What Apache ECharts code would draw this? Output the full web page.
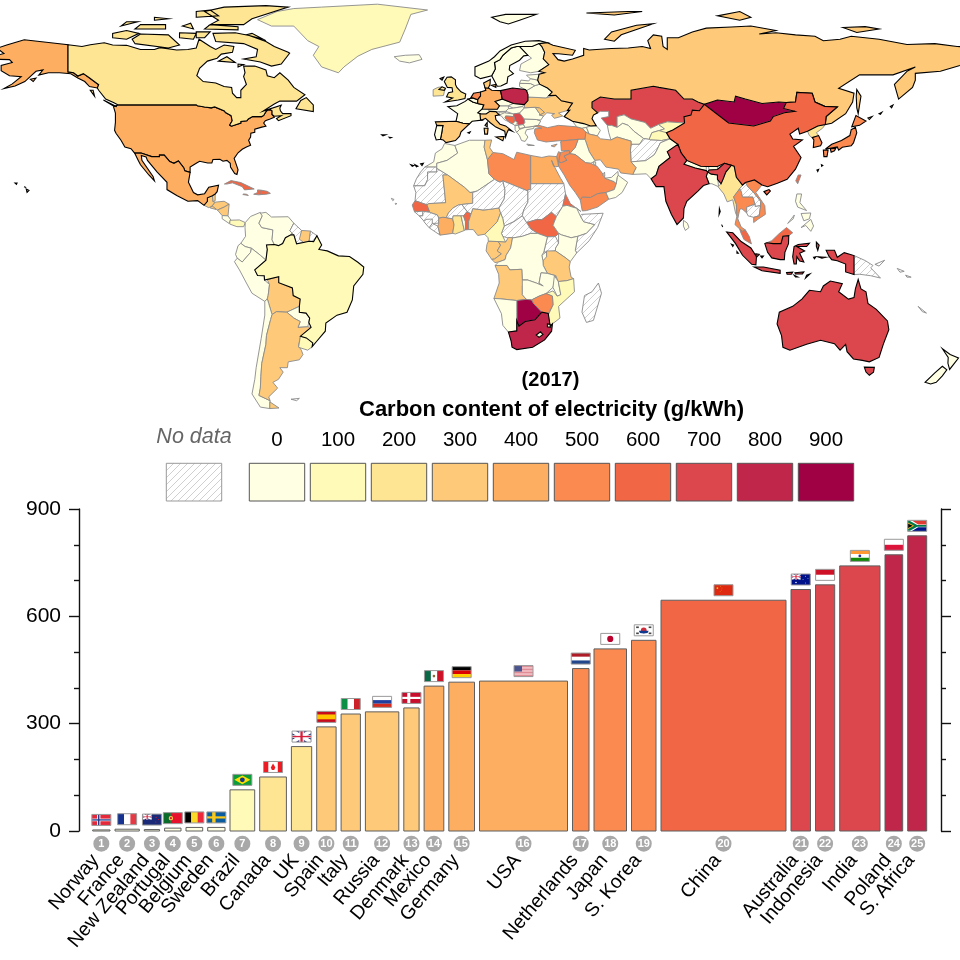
<!DOCTYPE html>
<html><head><meta charset="utf-8">
<style>html,body{margin:0;padding:0;background:#fff}#c{width:960px;height:960px}</style>
<script src="https://cdn.jsdelivr.net/npm/echarts@6/dist/echarts.min.js"></script>
</head><body><div id="c"></div>
<script>
// ---------- bar chart data ----------
const countries = ['Norway','France','New Zealand','Portugal','Belgium','Sweden','Brazil','Canada','UK','Spain','Italy','Russia','Denmark','Mexico','Germany','USA','Netherlands','Japan','S. Korea','China','Australia','Indonesia','India','Poland','S. Africa'];
const barValues = [3,5,4,8,10,10,115,151,236,291,327,333,344,405,416,419,454,509,533,645,675,688,741,772,825];
const barWidths = [17.3,24.3,15.3,16.4,16.7,17.3,24.7,26.7,20.3,19.4,19.3,33.4,15.3,19.7,25.7,88,16.5,32.5,24.5,125,19.5,19.2,40.3,17.7,19];
const yTickStep = 300;
const yMax = 900;
// ---------- legend data ----------
const legendLabels = ['0','100','200','300','400','500','600','700','800','900'];
const legendColors = ['#FFFFE3','#FFFAB7','#FEE594','#FECA79','#FDAE61','#FB8A50','#F16745','#DB474C','#BF2649','#A00044'];
// ---------- map data: value per region (null = no data) ----------
const regionValues = {
Greenland:100,Iceland:20,Guatemala:300,Belize:300,Salvador:300,Honduras:300,Nicaragua:300,CostaRica:20,Panama:100,Cuba:600,Haiti:600,Dominican:600,Jamaica:600,
Colombia:20,Venezuela:20,Guyana:null,Suriname:300,FrenchGuiana:null,Ecuador:20,Peru:20,Bolivia:300,Paraguay:20,Chile:20,Argentina:300,Uruguay:100,Falkland:null,
Ireland:200,Switzerland:20,Austria:20,CzechRep:20,Slovakia:20,Hungary:20,Slovenia:20,Croatia:20,Bosnia:600,Serbia:700,Montenegro:20,Albania:20,Macedonia:20,Greece:20,Bulgaria:20,Romania:20,Moldova:300,Ukraine:300,Belarus:20,Lithuania:20,Latvia:20,Estonia:20,Finland:20,Cyprus:400,
Kazakhstan:700,Uzbekistan:20,Turkmenistan:20,Kyrgyzstan:100,Tajikistan:100,Afghanistan:null,Pakistan:20,Nepal:20,Bhutan:20,Bangladesh:20,SriLanka:20,Mongolia:900,NKorea:200,Taiwan:600,Myanmar:200,Thailand:500,Laos:null,Cambodia:null,Vietnam:500,Malaysia:600,PNG:null,Philippines:20,Solomon:null,NewCaledonia:null,
Turkey:500,Georgia:20,Armenia:20,Azerbaijan:20,Iran:400,Iraq:20,Syria:500,Jordan:500,Israel:500,Saudi:500,Yemen:500,Oman:20,UAE:20,Qatar:20,Kuwait:20,
Morocco:20,WSahara:null,Mauritania:null,Algeria:20,Tunisia:300,Libya:500,Egypt:400,Mali:300,Senegal:600,GuineaBissau:null,Guinea:null,SierraLeone:null,Liberia:null,IvoryCoast:400,Burkina:null,Ghana:200,Togo:20,Benin:600,Nigeria:300,Niger:null,Chad:null,Sudan:null,SouthSudan:600,Eritrea:600,Ethiopia:20,Somalia:null,Kenya:20,Uganda:null,Rwanda:20,Tanzania:300,CAR:null,Cameroon:100,Gabon:300,Congo:300,DRC:20,Angola:300,Zambia:20,Malawi:20,Mozambique:100,Zimbabwe:500,Botswana:900,Namibia:20,Lesotho:0,Swaziland:0,Madagascar:null,CapeVerde:null
};
// map outlines as lon,lat rings (rings separated by |)
const regionRings = {
Greenland:'-73,78.2 -68,76 -60,76 -55,71 -51,69 -53,66 -50,62 -44,60 -42,62 -37,65.7 -32,68 -22,70.5 -20,75 -18,80 -12,81.5 -30,83.5 -50,82.5 -60,82 -66,81',
Iceland:'-24,65.5 -22,64 -18.5,63.4 -14,64.6 -15,66.2 -20,66',
Guatemala:'-92.2,14.6 -91,16 -91,17.2 -89.2,17.9 -89,15.9 -88.2,15.7 -89.3,14.4 -90.5,13.8',
Belize:'-89.2,17.9 -88.2,18.5 -88.2,16.2 -89,15.9',
Salvador:'-90,13.7 -89.3,14.4 -87.7,13.8 -87.9,13.2',
Honduras:'-89.3,14.4 -88.2,15.7 -85,16 -83.2,15 -85,14 -87.4,13',
Nicaragua:'-87.4,13 -85,14 -83.2,15 -83.6,11 -85.7,11.1',
CostaRica:'-85.7,11.1 -83.6,11 -82.6,9.6 -83.2,8.4 -85.7,10',
Panama:'-82.9,9.5 -79.5,9.6 -77.4,8.7 -78,7.3 -80.4,7.3 -83,8.2',
Cuba:'-84.9,21.9 -82.5,23.1 -79,22.4 -74.2,20.2 -77.7,19.9 -78.5,21 -82,22.3 -84,21.9',
Haiti:'-74.4,18.4 -72.5,18.2 -71.7,18.3 -71.7,19.8 -73,19.9 -73,19',
Dominican:'-71.7,18.3 -70,18.4 -68.4,18.7 -69.5,19.4 -71.7,19.8',
Jamaica:'-78.3,18.3 -76.3,18 -77,18.4 -78,18.5',
Colombia:'-77.4,8.7 -75.5,10.8 -72,12.2 -71.3,11 -72.5,8.5 -71.5,7 -67.5,6.2 -67.8,2.8 -67,1.2 -69.8,1 -69.5,-0.5 -70,-4.2 -72,-2.5 -75.2,-0.1 -77.5,0.5 -79,1.6 -77.3,4 -77.5,7',
Venezuela:'-71.3,11 -72,11.9 -70,12.2 -68,10.6 -62,10.7 -60,8.5 -61.4,5.9 -60.7,5.2 -61,4.5 -63,3.5 -64,1.5 -65.5,0.8 -67,1.2 -67.8,2.8 -67.5,6.2 -71.5,7 -72.5,8.5',
Guyana:'-60,8.5 -57.2,6 -57.5,3.4 -56.5,1.9 -59,1.4 -60,4.5 -60.7,5.2 -61.4,5.9',
Suriname:'-57.2,6 -54,5.8 -54.5,2.3 -56.5,1.9 -58,3',
FrenchGuiana:'-54,5.8 -51.7,4.2 -52.9,2.2 -54.5,2.3',
Ecuador:'-80.9,-2.2 -80,0.8 -79,1.6 -77.5,0.5 -75.2,-0.1 -75.5,-1.5 -78.5,-4.8 -80.3,-3.5',
Peru:'-81.3,-4.7 -80.3,-3.5 -78.5,-4.8 -75.5,-1.5 -75.2,-0.1 -72,-2.5 -70,-4.2 -74,-7.5 -73,-9.4 -70.6,-9.5 -70.5,-11 -68.7,-12.5 -69.2,-16.3 -69.5,-17.4 -70.4,-18.3 -75,-15.5 -77,-12 -79.5,-7.5',
Bolivia:'-68.7,-12.5 -69.5,-10.9 -65.4,-9.8 -65.4,-11.9 -60.5,-13.7 -60.2,-16.3 -57.7,-17.5 -58,-20 -62.5,-22 -66.2,-21.8 -67.8,-22.8 -69,-19 -69.5,-17.4 -69.2,-16.3',
Paraguay:'-62.5,-22 -58,-20 -58,-22 -55.6,-22.3 -54.3,-24 -54.6,-25.5 -55,-27 -58.5,-27.2 -57.7,-25.2 -60,-24',
Chile:'-70.4,-18.3 -69.5,-17.4 -69,-19 -67.8,-22.8 -68.3,-24.5 -69.8,-30 -70,-33 -71.5,-39.6 -71.8,-44 -72,-48 -72.5,-50.5 -68.5,-52.3 -68.6,-55 -72,-54.5 -75,-50 -74,-45 -73.5,-41 -71.7,-31 -70.4,-23',
Argentina:'-66.2,-21.8 -62.5,-22 -60,-24 -57.7,-25.2 -58.5,-27.2 -55,-27 -53.8,-27.2 -57.6,-30.2 -58.3,-33.5 -57.3,-35 -56.7,-36.5 -58,-38.3 -62,-39 -62.3,-41 -65,-41 -63.8,-42.5 -65.5,-45 -67.5,-46 -65.8,-48 -69,-51 -68.5,-52.3 -72.5,-50.5 -72,-48 -71.8,-44 -71.5,-39.6 -70,-33 -69.8,-30 -68.3,-24.5 -67.8,-22.8|-68.6,-52.7 -65.3,-54.8 -68.6,-55',
Uruguay:'-57.6,-30.2 -55.5,-30.8 -53.2,-32.5 -53.4,-33.8 -55,-35 -58.3,-34',
Falkland:'-61,-51.8 -58,-51.5 -59,-52.3',
Ireland:'-10,52 -6.3,52.2 -6,53.5 -5.6,54.6 -6.8,55.2 -8.3,55 -10,54.2',
Switzerland:'6,46.3 7.6,47.6 9.6,47.5 10.4,46.8 9,45.9 7,45.9',
Austria:'9.6,47.5 13,47.5 13.8,48.7 17,48.7 17,47.7 16,46.8 12.5,46.7 10.4,46.8',
CzechRep:'12.2,50.2 14.8,51 18.8,49.5 17,48.7 13.8,48.7',
Slovakia:'17,48.7 18.8,49.5 22.5,49.1 22,48.4 18.7,47.9',
Hungary:'16,46.8 17,47.7 18.7,47.9 22,48.4 22.8,48 21,46.2 18.8,45.9',
Slovenia:'13.7,45.6 13.6,46.5 16,46.6 15.5,45.6',
Croatia:'13.6,45.5 15.6,46.3 18.8,45.9 19,45 16,45.2 15.8,44.5 17.5,43 18.5,42.5 15.5,44 14.5,45.2',
Bosnia:'16,45.2 19,45 19.5,43.5 18.5,42.6 17.5,43 15.8,44.5',
Serbia:'18.8,45.9 21,46.2 22.5,44.5 22.9,43 22.4,42.3 20.6,42 19.5,43.5 19,45',
Montenegro:'18.5,42.5 19.5,43.5 20.3,42.9 19.4,41.9',
Albania:'19.4,41.9 20.6,42 21,40.6 20,39.6 19.4,40.5',
Macedonia:'20.6,42 22.4,42.3 23,41.3 21,40.9',
Greece:'20,39.6 21,40.6 23,41.3 26.3,41.7 26,40.9 23.5,40.5 23,39.3 24,38 23,36.5 21.7,36.8 21,38.4|23.6,35.6 26.3,35.1 24,35.1',
Bulgaria:'22.4,42.3 22.9,43 22.7,44.2 27,44 28.6,43.5 27.7,42 26.3,41.7 23,41.3',
Romania:'21,46.2 22.8,48 26.6,48.2 28.2,46 29.6,45.2 28.6,43.8 27,44 22.7,44.2',
Moldova:'26.6,48.2 28.2,48 30,46.4 28.2,45.5 28.2,46',
Ukraine:'24,50.5 24,51.7 30.5,51.4 34,52.3 36,50.4 40,49.6 38.2,47.1 35,46.2 36.5,45.2 33.5,44.4 32.5,45.5 33.6,46 30.8,46.3 29.6,45.2 28.2,45.5 30,46.4 28.2,48 26.6,48.2 22.8,48 22.7,49.1',
Belarus:'24,52.5 23.5,53.9 26.5,55.6 28.2,56.1 31,54.8 32.7,53.4 31.5,52.2 30.5,51.4 24,51.7',
Lithuania:'21,55.3 21,56.4 25,56.3 26.5,55.6 23.5,53.9 23,54.3',
Latvia:'21,56.4 21.5,57.5 24.3,57.2 25,58 27.5,57.5 28.2,56.1 26.5,55.6 25,56.3',
Estonia:'23.5,59.2 28,59.5 27.5,57.5 25,58 24.4,58.3',
Finland:'21,60.8 25,60 27.9,60.5 31.5,62.8 29.5,64.8 30,67 29,69 28,70 25.5,69 21,69 24,66 25.3,65 21.5,63',
Cyprus:'32.3,35 34.5,35.6 33.5,34.6',
Kazakhstan:'47,50 50,51.7 55,51 61,51 61,54 69,55.4 71,55 77,54 80,51 83,51 85,50 87.3,49.2 85.5,47 83,47.2 82.5,45.5 80,45 80.2,42.8 74,43.2 70.9,42.3 68,41 66,43 61,44.2 58.5,45.6 56,45 56,41.3 52.5,42 50.3,44.5 53,45 53,46.8 50,46.8 49,46.3 47,48',
Uzbekistan:'56,41.3 56,45 58.5,45.6 61,44.2 66,43 68,41 70.9,42.3 73,40.8 71,40.2 68.5,39.5 67.5,37.2 65.5,37.5 62,40 60,42 58,42.7',
Turkmenistan:'52.5,42 54,42 56,41.3 58,42.7 60,42 62,40 65.5,37.5 64,35.5 61,35.5 61,36.6 56,38 53.8,37 53,39.5',
Kyrgyzstan:'70.9,42.3 74,43.2 80.2,42.8 76,40.4 73.7,39.5 70,39.7 73,40.8',
Tajikistan:'68.5,39.5 71,40.2 73.7,39.5 75,37.4 72,36.8 68,37 67.5,37.2',
Afghanistan:'61,35.5 64,35.5 65.5,37.5 67.5,37.2 68,37 72,36.8 75,37.4 71.5,36 70,33 69.3,31.9 66.3,29.9 61,29.5 60.8,33.5',
Pakistan:'61,29.5 66.3,29.9 69.3,31.9 70,33 71.5,36 75,37.4 77.8,35.5 74,33 75,31 71,28 70,25 68.2,23.7 66.5,25.4 61.6,25.2 62.8,27.5',
Nepal:'80,28.7 81,30 86,28 88,27.9 88,26.5 84,27.4',
Bhutan:'88.8,27.9 92,27.9 92,26.9 89,26.7',
Bangladesh:'88.5,26 89.8,25.3 92,25 92.4,21 90,22 89,22 88,24.5',
SriLanka:'79.8,9.5 81.2,8.5 81.8,7 80.5,6 79.8,7.5',
Mongolia:'87.3,49.2 92,50.7 98,50 98.5,52 102,51 108,49.5 114,50 116.7,49.8 115.7,47.8 119.8,46.8 116,46.3 112,45 111,43.5 105,41.8 96,42.8 91,46.5',
NKorea:'124.3,40 128,41.8 130.7,42.3 129.7,41 127.5,39.5 128.3,38.5 126,37.8 125,38.5',
Taiwan:'121,25 122,25 120.8,22 120.1,23',
Myanmar:'92.2,21 93.3,22 94,23.5 95,26 97,28.3 98,28 98.8,24.2 101,21.5 100,20.3 97.8,17.5 98.8,15 99,11 98.5,12 97.5,16.5 95.5,15.8 94.3,18.5',
Thailand:'97.8,17.5 100,20.3 100.5,19.5 101,17.5 104.7,17.5 105.5,15 102.5,14 102.5,12 100.8,13.4 100,13.3 99.3,10 100.5,7.2 102,6.2 101,5.7 100,6.5 98.3,8 99,11 98.8,15',
Laos:'101,21.5 102,22.4 103,20.9 105,19 107.5,16 107.5,14.5 105.5,14.2 105.5,15 104.7,17.5 101,17.5 100.5,19.5 100,20.3',
Cambodia:'102.5,14 105.5,15 105.5,14.2 107.5,14.5 107,11 105,10.5 103,11 102.5,12',
Vietnam:'102,22.4 105.3,23.3 108,21.6 105.8,19 109,14.5 109.2,11.5 106.5,9.8 105,8.7 105,10.5 107,11 107.5,14.5 107.5,16 105,19 103,20.9',
Malaysia:'100,6.5 101,5.7 102,6.2 103.4,4 104.2,1.4 101.5,2.9 100.3,5.5|109.7,1.8 111.5,2.5 114,4.8 116.8,7 119,5.2 117.6,4.2 115.5,4 114.8,1.5 112,1.5',
PNG:'141,-2.6 145,-4.3 147.8,-6 147,-6.8 150.5,-10.3 147,-9.5 143,-9 141,-9.1|148.5,-5.6 152,-4.2 150,-6.2',
Philippines:'120.5,18.5 122.2,18.5 121.6,15.5 124,12.8 120.8,14 120,16|122,7 125.5,9.8 126.5,7.5 125.5,5.7 123.7,7.7|122,11.8 125.5,12 125,10 123,9.3|117.2,8.4 119.6,11.3 119.2,10',
Solomon:'156.5,-7 159,-8 157.5,-8.3|159.5,-9.3 161.5,-10 160,-10',
NewCaledonia:'164,-20 167,-22.3 165.5,-21.8',
Turkey:'26.3,41.7 28,42 31,41.2 35,42 41.5,41.5 43.5,41 44.8,39.7 44.5,37.2 42,37.2 36.5,36.7 35.8,36 36,36.8 30.5,36.3 27.4,37 26.3,39.5 26.5,40.8 29,41',
Georgia:'40,43.4 44,42.6 46.5,41.8 45,41.3 43.5,41 41.5,41.5',
Armenia:'43.5,41 45,41.3 46,39 44.8,39.7',
Azerbaijan:'46.5,41.8 48.5,41.9 50,40.3 48.9,38.4 46,39 45,41.3',
Iran:'44.8,39.7 46,39 48.9,38.4 50,37.4 53.8,37 56,38 61,36.6 61,35.5 60.8,33.5 61,29.5 62.8,27.5 61.6,25.2 57.3,25.7 56.5,27 52,27.7 50,30.2 48,30 46,33 44.5,37.2',
Iraq:'42,37.2 44.5,37.2 46,33 48,30 47.6,29.5 46.5,29 44.7,29.2 41,32 39,32.3 41,34.5',
Syria:'36,36.8 36.5,36.7 42,37.2 41,34.5 39,32.3 38.8,33.4 36,33.3 35.8,36',
Jordan:'35.6,32.7 38.8,33.4 39,32.3 37,31.5 38,30 36,29.2 35,29.5 35.4,31.5',
Israel:'34.3,31.3 35,33 35.6,32.7 35.4,31.5 35,29.5',
Saudi:'35,29.5 36,29.2 38,30 37,31.5 39,32.3 41,32 44.7,29.2 46.5,29 47.6,28.5 48.8,28 50,26.5 51.5,24.5 51.6,23.9 55,22.7 55.7,22 55,20 52,19 49,18.6 46.5,17.3 43.5,17.4 42.8,16.4 41,19 39,21.5 37,25 35,28',
Yemen:'42.8,16.4 43.5,17.4 46.5,17.3 49,18.6 52,19 53,16.7 49,14 45,12.8 43.5,12.7',
Oman:'52,19 55,20 55.7,22 56,24.2 56.4,24.9 59.8,22.5 57.8,19 55.5,17.3 53,16.7',
UAE:'51.6,23.9 54,24.2 56.3,26.2 56.4,24.9 56,24.2 55.7,22 55,22.7',
Qatar:'50.8,24.8 51.5,26 51.6,24.6',
Kuwait:'47.6,29.5 48.3,29.5 48.3,28.5 47.6,28.5',
Morocco:'-5.9,35.8 -2.2,35.1 -1.2,32.5 -5,30 -8.7,29 -8.7,27.7 -13,27.7 -9.8,29.5 -9.2,32.5 -6.8,34',
WSahara:'-13,27.7 -8.7,27.7 -8.7,26 -12,26 -12,23.4 -13,21.3 -17,21.3 -16,23.7 -14.5,26',
Mauritania:'-17,21.3 -13,21.3 -12,23.4 -12,26 -8.7,26 -8.7,27.3 -4.8,25 -6.5,25 -5.5,15.5 -11.5,15.2 -12.3,14.8 -16.5,16.2 -16.2,19',
Algeria:'-8.7,27.3 -8.7,29 -5,30 -1.2,32.5 -2.2,35.1 3,36.9 8.6,36.9 8.3,34.5 9.5,30.2 10,25.4 12,23.5 5.8,19.5 3.2,19 1.2,20.8 -4.8,25',
Tunisia:'8.6,36.9 11,37 10.3,34.3 11.5,32.7 9.5,30.2 8.3,34.5',
Libya:'9.5,30.2 11.5,32.7 15,32.3 19,30.3 20,32.8 25,31.7 25,20 24,20 24,19.5 15,23 14,22.5 12,23.5 10,25.4',
Egypt:'25,31.7 29,31 31.5,31.5 34.3,31.3 35,28 34,27.8 33.2,28 32.5,30 33.7,27.5 35.7,23.9 36.9,22 25,22',
Mali:'-12.3,14.8 -11.5,15.2 -5.5,15.5 -6.5,25 -4.8,25 1.2,20.8 3.2,19 4.2,19 4.2,15.3 0.3,14.9 -1,14.7 -3,13.6 -4.5,12 -5.3,10.4 -6.5,10.5 -8,10.2 -8.5,11.3 -11.3,12.2',
Senegal:'-17.5,14.7 -16.5,16.2 -12.3,14.8 -11.3,12.5 -16.7,12.4',
GuineaBissau:'-16.7,12.4 -13.7,12.6 -13.7,11 -15,11',
Guinea:'-13.7,12.6 -11.3,12.2 -8.5,11.3 -8,10.2 -8,8.5 -10,8.4 -12.5,9.8 -13.3,9.2 -15,11 -13.7,11',
SierraLeone:'-13.3,9 -12.5,9.8 -10.3,9.9 -10.3,8.4 -11.4,6.9',
Liberia:'-11.4,6.9 -10.3,8.4 -8.3,7.5 -7.5,4.4',
IvoryCoast:'-8.3,7.5 -8,8.5 -8,10.2 -6.5,10.5 -5.3,10.4 -3,10 -2.5,8 -3,5 -7.5,4.4',
Burkina:'-5.3,10.4 -4.5,12 -3,13.6 -1,14.7 0.3,14.9 2.2,12.5 0.9,11 -2.8,11 -3,10',
Ghana:'-3,10 -2.8,11 0,11 0.7,8 1.2,6 -2,4.8 -3,5 -2.5,8',
Togo:'0,11 0.9,11 1.6,9 1.6,6.2 1.2,6 0.7,8',
Benin:'0.9,11 2.2,12.5 3.6,11.7 2.7,9 2.7,6.3 1.6,6.2 1.6,9',
Nigeria:'2.7,6.3 2.7,9 3.6,11.7 4.2,13.5 8,13 10,13.2 13.6,13.7 14.2,12 13,9 11,7 8.5,4.7 6,4.3 4.4,6.3',
Niger:'0.3,14.9 4.2,15.3 4.2,19 5.8,19.5 12,23.5 14,22.5 15,23 15.8,19.8 15.5,16.8 13.6,13.7 10,13.2 8,13 4.2,13.5 3.6,11.7 2.2,12.5',
Chad:'15,23 24,19.5 24,15.7 22.5,13 22,11 19,9 15.5,7.5 15,10 14.2,12 13.6,13.7 15.5,16.8 15.8,19.8',
Sudan:'24,19.5 24,20 25,20 25,22 36.9,22 37.5,18.5 36.5,14.3 34.2,10.7 32.5,12.2 29,9.7 27,9.7 23.5,8.7 22,11 22.5,13 24,15.7',
SouthSudan:'23.5,8.7 27,9.7 29,9.7 32.5,12.2 34.2,10.7 33,7.8 35,5 33.9,3.9 31,3.8 27.5,5 25,6.5',
Eritrea:'36.5,14.3 37.5,18.5 39.2,15.2 43,12.5 41.5,13.6 38,14.6',
Ethiopia:'34.2,10.7 36.5,14.3 38,14.6 41.5,13.6 42.8,11 44,9 48,8 45,5 41.9,4 39.5,3.5 36,4.5 35,5 33,7.8',
Somalia:'41.9,4 45,5 48,8 44,9 42.8,11 43.2,11.5 51,11.9 49,7 46,2.5 41.5,-1.7 41,-0.8',
Kenya:'33.9,0 35,1.7 35,5 36,4.5 39.5,3.5 41.9,4 41,-0.8 41.5,-1.7 39.2,-4.7 37.7,-3.5 33.9,-1',
Uganda:'29.7,-1.4 31,3.8 33.9,3.9 35,1.7 33.9,0 33.9,-1',
Rwanda:'29,-2.5 30.8,-1.2 30.7,-4.4 29.4,-4.4',
Tanzania:'30.7,-1 33.9,-1 37.7,-3.5 39.2,-4.7 38.8,-6.5 39.5,-10 40.4,-10.5 38,-11.2 34.9,-11.5 34,-9.5 31,-8.7 29.5,-6 29.4,-4.4 30.7,-3',
CAR:'14.5,5 15.5,7.5 19,9 22,11 23.5,8.7 25,6.5 27.5,5 25,5 22,4 19,3.5 16.5,3.5 15,4',
Cameroon:'8.5,4.7 11,7 13,9 14.2,12 15,10 15.5,7.5 14.5,5 15,4 16,2 13.3,2.2 9.8,2.3 9.7,3.5',
Gabon:'9.3,1.2 9.8,2.3 13.3,2.2 14.2,1 13,-1 14.5,-2 12,-3.8 11,-3.9 9,-1',
Congo:'11,-3.9 12,-3.8 14.5,-2 13,-1 14.2,1 13.3,2.2 16,2 17,3.6 18.5,3.5 17.8,0 16.2,-2.5 15.8,-4 13.5,-4.8 12.2,-5',
DRC:'12.2,-6 13.5,-4.8 15.8,-4 16.2,-2.5 17.8,0 18.5,3.5 19,3.5 22,4 25,5 27.5,5 31,3.8 29.7,-1.4 29,-2.5 29.4,-4.4 29.5,-6 31,-8.7 28.7,-8.5 28,-12 29.5,-13 27,-12 24,-11 22,-11 21.8,-7.3 17.5,-7.5 16.5,-6',
Angola:'12.2,-6 16.5,-6 17.5,-7.5 21.8,-7.3 22,-11 24,-11 22,-13 22,-16 23.4,-17.6 20,-18 14,-17.4 11.8,-17.3 13.7,-12 13.5,-9',
Zambia:'22,-11 24,-11 27,-12 29.5,-13 28,-12 28.7,-8.5 31,-8.7 34,-9.5 33,-13.5 30.5,-15.6 28,-16.5 25.3,-17.8 23.4,-17.6 22,-16 22,-13',
Malawi:'33.5,-9.5 34.9,-11.5 35.8,-16 34.5,-16.5 33,-13.5',
Mozambique:'34.9,-11.5 38,-11.2 40.4,-10.5 40.7,-15 35,-20 35.5,-24 32.8,-26 32,-26.8 31.3,-23 33,-19.5 32.8,-16.5 30.5,-15.6 33,-14.7 34.5,-16.5 35.8,-16',
Zimbabwe:'25.3,-17.8 28,-16.5 30.5,-15.6 32.8,-16.5 33,-19.5 31.3,-22.4 29,-22 26,-19',
Botswana:'20,-18 23.4,-17.6 25.3,-17.8 26,-19 29,-22 26.5,-24.6 23,-25.2 20.8,-26.8 20,-24.8 20,-22',
Namibia:'11.8,-17.3 14,-17.4 20,-18 20,-22 20,-24.8 20,-28.4 17,-28.8 15,-26.5 14.5,-22.5',
Madagascar:'49.3,-12 50.4,-15.5 47.5,-24.8 45,-25.5 43.4,-22 44.3,-16.3 47,-15',
CapeVerde:'-25,17 -24,16.6 -24.5,16.2|-23.6,15.3 -23,15.2 -23.5,14.9',
// countries that have a bar: black borders, drawn last
'USA':'-124.7,48.4 -123,49 -95,49 -94.6,48.7 -92,48.3 -89.6,48 -88.4,48.3 -84.9,46.9 -84.5,46.4 -83.4,45.8 -82.5,45.3 -82.1,43.6 -83,42.1 -82.4,41.7 -79,42.8 -79,43.3 -76.8,43.6 -76.3,44.2 -74.8,45 -71.5,45 -70.8,45.4 -70,46.7 -69.2,47.4 -68.3,47.3 -67.8,47 -67.8,45.7 -67,44.8 -68.5,44.2 -70.2,43.6 -70.8,42.8 -70,41.7 -71.5,41.4 -74,40.7 -74,39.6 -75.4,39.3 -75.5,38 -76.2,36.9 -75.5,35.2 -77,34.6 -78.5,33.8 -80,32.6 -81.4,30.7 -80.5,28.2 -80,26.8 -80.4,25.2 -81.2,25.5 -82.7,27.7 -82.8,29 -84,30 -85.4,29.7 -86.5,30.4 -89,30.3 -89.4,29.1 -90.9,29.1 -93.8,29.7 -95,29 -97.2,27.7 -97.2,25.9 -99.1,26.4 -99.5,27.5 -101.4,29.8 -103,29 -104.5,29.6 -106.5,31.8 -108.2,31.8 -108.2,31.3 -111,31.3 -114.8,32.5 -117.1,32.5 -118.4,34 -120.6,34.6 -122,36.9 -123.8,39.3 -124.3,40.3 -124,43 -124,46.2|-141,69.6 -141,60.3 -139,60 -137.5,58.9 -135.5,59.7 -133.5,58.4 -130,55.9 -130.5,54.8 -133.3,55.3 -135,57 -137.5,58.2 -140,59.7 -144,60 -148,60 -151.5,59.2 -150,61 -152.5,60.5 -154,59.2 -156.5,57 -160,55.5 -164,54.6 -161,56.2 -157.8,58.7 -162,59 -165,60.7 -165,62.5 -161,63.5 -162,64.5 -166,64.6 -168,65.6 -164,66.6 -166.5,68.4 -163,69.5 -156.7,71.3 -152,70.8 -148,70.4|-154.5,57.8 -152.5,58.2 -153.5,57|-160,22.2 -159.3,22.2 -159.5,21.8|-156.8,21 -156,20.7 -156.3,20.5|-156,20.2 -155,19.7 -155.7,19',
'Canada':'-141,69.6 -136,69 -133,69.6 -128,70.3 -125,69.5 -120,69.4 -115,68 -110,68 -108,68.6 -102,67.8 -98,68 -95,68.5 -94,71.5 -90,69 -88,68 -85,69.5 -81.5,69 -82,67 -86,66.4 -87.5,65 -91,64 -93.8,61.5 -94.8,59 -92.5,57 -88,56.5 -85,55.3 -82.3,55 -82,53 -80.5,51.5 -79,51.5 -79,54 -77,56 -78,58.7 -77.5,60 -78,62.3 -74,62.3 -70,61 -69.5,59 -67,58.3 -65,60 -62,57.5 -60,55 -56,52.5 -59,50.3 -65,50.3 -67,49.3 -71,46.9 -64.5,48.9 -65,47.9 -64.8,47 -64,46 -61,46 -61,45.3 -65.5,43.6 -66.2,44.3 -64.5,45.3 -67,45.1 -67.8,45.7 -67.8,47 -68.3,47.3 -69.2,47.4 -70,46.7 -70.8,45.4 -71.5,45 -74.8,45 -76.3,44.2 -76.8,43.6 -79,43.3 -79,42.8 -82.4,41.7 -83,42.1 -82.1,43.6 -82.5,45.3 -83.4,45.8 -84.5,46.4 -84.9,46.9 -88.4,48.3 -89.6,48 -92,48.3 -94.6,48.7 -95,49 -123,49 -124.7,49.8 -127.5,51 -130,54 -130.5,54.8 -130,55.9 -133.5,58.4 -135.5,59.7 -137.5,58.9 -139,60 -141,60.3|-61.5,66.7 -64.5,63 -68,62.3 -72,63.7 -78,64.7 -73.5,65.5 -73,68 -78,70 -88,70.7 -89,73.5 -81,73.7 -76,72.8 -70,70.7 -67,69 -62,67|-117,70 -105,68.5 -101,69.5 -105,73 -115,73.3 -118,71.5|-125,72 -120,71.5 -115.5,73.5 -120,74.5 -125,73.5|-90,76.5 -78,76.5 -75,78.5 -62,82.5 -70,83 -85,82.5 -92,81 -87,78|-92,75 -80,74.7 -80,75.8 -90,76.5|-117,75 -106,75 -106,76.5 -115,76.5|-95,79 -87,79.5 -90,81.5 -95,81|-95,72 -92,72 -90,74 -95,74|-101,72 -96,71.5 -95,73.5 -101,73.7|-59.2,47.7 -53,46.7 -53,49 -55.5,51.5 -57.5,50.5|-128.3,50.7 -123.5,48.4 -125,48.8|-87,64 -81,63.5 -84,65.5|-133,54 -131.5,52 -132,54|-110,78 -105,78.5 -110,79|-122,76 -116,77.5 -120,77.5|-100,76 -96,75 -97,77|-80,62 -78,62.8 -80,63|-77,73 -71,71.5 -75,73.5',
'Mexico':'-117.1,32.5 -114.8,32.5 -111,31.3 -108.2,31.3 -108.2,31.8 -106.5,31.8 -104.5,29.6 -103,29 -101.4,29.8 -99.5,27.5 -99.1,26.4 -97.2,25.9 -97.8,22.5 -96,19 -94.5,18.2 -92,18.6 -90.5,20.8 -87,21.5 -87.5,19.3 -88.2,18.5 -89.2,17.9 -91,17.2 -91,16 -92.2,14.6 -94.5,16.2 -98,16 -102,18 -105.5,20 -105.5,22.5 -109,26 -112.5,30 -113,31.2 -114.7,31.7 -114.5,30 -110.5,24.5 -110,23 -112,25 -115,28.5 -115.8,30',
'Brazil':'-51.7,4.2 -50,1 -51,-0.5 -48,-1 -44,-2.7 -40,-2.9 -37,-4.9 -34.9,-6.5 -35.2,-9 -38.5,-13 -39,-17.8 -40.9,-22 -44.5,-23 -48.5,-25.7 -48.7,-28.5 -52,-32.2 -53.4,-33.8 -53.2,-32.5 -55.5,-30.8 -57.6,-30.2 -53.8,-27.2 -54.6,-25.5 -54.3,-24 -55.6,-22.3 -58,-22 -58,-20 -57.7,-17.5 -60.2,-16.3 -60.5,-13.7 -65.4,-11.9 -65.4,-9.8 -70.5,-11 -70.6,-9.5 -73,-9.4 -74,-7.5 -70,-4.2 -69.5,-0.5 -69.8,1 -67,1.2 -65.5,0.8 -64,1.5 -63,3.5 -61,4.5 -60,4.5 -59,1.4 -56.5,1.9 -54.5,2.3 -52.9,2.2',
'UK':'-5.7,50 -1,50.7 1.4,51.2 1.7,52.7 0,53.5 -1.5,55 -2,56 -2,57.6 -3.5,58.6 -5,58.5 -6,57 -4.9,55 -3.2,54.9 -3,53.5 -4.5,53.2 -5.2,51.8 -3,51.4|-7.9,54.3 -6,54 -5.6,54.7 -6.8,55.2|-7.5,58 -6.2,58.5 -6.8,57.5',
'France':'-1.8,43.4 -1.2,46 -4.7,48.4 -1.5,48.7 1.5,50.2 2.5,51 4.2,50 6,49.5 8.2,49 7.6,47.6 6,46.3 7,45.9 7,44 7.5,43.8 4,43.4 3,42.5 0.7,42.7|8.6,42 9.4,43 9.4,41.5',
'Spain':'-9.2,43.2 -1.8,43.4 0.7,42.7 3,42.5 0,39.8 -0.5,38.3 -2,36.8 -5.4,36.1 -6.4,37 -7.4,37.2 -7,39 -6.5,41.9 -8.7,42|2.5,39.5 3.3,39.8 3,39.3|-18,28.5 -17,28.2 -17.5,28|-16.5,28.5 -15.5,28 -16,27.8|-14.5,28.8 -13.5,29 -14,28.2',
'Portugal':'-8.7,42 -6.5,41.9 -7,39 -7.4,37.2 -8.9,37 -9.5,38.8|-28.5,38.8 -27,38.8 -28,38.4|-25.8,37.9 -25,37.8 -25.5,37.6',
'Belgium':'2.5,51 4.2,51.4 6,50.8 6,49.5 4.2,50',
'Netherlands':'3.5,51.4 4.5,53 7,53.4 7,52 6,50.8 4.2,51.4',
'Germany':'7,53.4 8.9,54 8.6,54.9 10,54.7 11,54 14.2,53.9 14.8,51 12.2,50.2 13.8,48.7 13,47.5 7.6,47.6 8.2,49 6,49.5 6,50.8 7,52',
'Denmark':'8.6,54.9 8.1,56.5 10.5,57.7 10.4,56 9.8,54.8|11,55.7 12.5,56 12.5,55',
'Italy':'7,44 6.8,45.9 9,45.9 10.4,46.8 12.5,46.7 13.7,45.6 12.3,45.3 12.5,44 14,42.4 16,41.8 18.4,40 17,40.5 16.5,39.5 16,38 15.7,40 12.5,41.4 10.5,42.9 8.8,44.4 7.5,43.8|12.5,38 15.5,38.2 15,36.7|8.3,41 9.7,41 9.5,39 8.5,39',
'Poland':'14.2,53.9 18.5,54.8 23,54.3 23.5,53.9 24,52.5 24,50.5 22.7,49.1 18.8,49.5 14.8,51',
'Sweden':'11,59 11.2,58.8 13,55.4 14.3,55.5 16.5,56.5 16.8,58.6 18.8,59.7 17.3,61 17.5,62.5 21,64.3 22.5,65.8 24,66 21,69 20,69 18,68.5 15,66 14,64.5 12,63.5 12.3,61.3',
'Norway':'5,59 7,58 11,59 12.3,61.3 12,63.5 14,64.5 15,66 18,68.5 20,69 21,69 25.5,69 28,70 31,70.3 28,71 23,70.8 18,69.5 14,67.5 12,65.5 10,64 5,62|11,79 16,80 27,80 21,78 17,76.7 14,77.5',
'Russia':'31,70.3 33,69.4 41,67.7 40,66 35,66.5 33,66.6 34.8,64.5 37,64 40,64.7 44,66 44,68.3 46,67.8 54,68.3 60,68.5 65,69 68,68.3 67,71 69,73 72,72.5 72.5,69 74,68 74,72 78,72 83,74 88,75.3 97,75.7 104,76 113,74.5 107,73.3 113,73.7 120,73 127,72.5 130,71 136,71.5 140,72.5 150,71.5 160,69.7 170,70 178,69 180,68.9 190,66.5 185,65 179,62.5 172,60.5 163,59.8 163,57.5 162,55 157,51 155.5,56 160,60.5 163,62 155,59.3 143,59.3 135.5,54.7 141,53 140.5,50 138,46 133,42.7 130.7,42.3 131,45 135,48.3 130.5,48.5 127,50 126,53 120.5,53.3 120,50 116.7,49.8 114,50 108,49.5 102,51 98.5,52 98,50 92,50.7 87.3,49.2 85,50 83,51 80,51 77,54 71,55 69,55.4 61,54 61,51 55,51 50,51.7 47,50 47,48 49,46.3 47.5,45.5 47,44.3 47.8,43 48.5,41.9 46.5,41.8 44,42.6 40,43.4 37,45 39,47.2 38.2,47.1 40,49.6 36,50.4 34,52.3 31.5,52.2 32.7,53.4 31,54.8 28.2,56.1 27.5,57.5 28,59.5 30,60 27.9,60.5 31.5,62.8 29.5,64.8 30,67 29,69 28,70|51.5,71.5 55,70.8 57.5,73 69,76.8 63,76.3 54,74|45,80.5 60,81 65,81 55,79.8|92,79.5 100,81 104,79 100,78|137,75.5 145,75.8 150,75 142,73.8|142,54.3 143.5,52 143,49 142.5,46 142,48 141.8,52|146,44.5 147.5,45 146.5,44|150,46 151,46.5 150.5,45.8|154,48.5 155,49 154.5,48',
'China':'73.7,39.5 76,40.4 80.2,42.8 80,45 82.5,45.5 83,47.2 85.5,47 87.3,49.2 91,46.5 96,42.8 105,41.8 111,43.5 112,45 116,46.3 119.8,46.8 115.7,47.8 116.7,49.8 120,50 120.5,53.3 126,53 127,50 130.5,48.5 135,48.3 131,45 130.7,42.3 128,41.8 124.3,40 121.5,39 121,41 118,39 119,37.3 122.5,37 119.3,34.8 122,31 120,27 117,23.5 113.5,22.2 110,21 108,21.6 105.3,23.3 102,22.4 101,21.5 98.8,24.2 98,28 97,28.3 94.5,29 92,27.9 88.8,27.9 88,27.9 86,28 81,30 79,32.5 77.8,35.5 75,37.4|108.7,19.3 110.5,20 111,19.5 109.7,18.2',
'Japan':'130.9,34 133,35.5 136.5,36.8 139.5,38.5 140,40.5 141.5,41.3 142,39.5 140.8,36 140,35 136.8,34.5 135.5,33.5 135,34.6 131,33.9|130,33.5 131.7,33.5 131.3,31.3 130.2,31.3|132.5,34 134.5,34.2 134,33.3 132.8,32.8|140.2,41.5 141.7,45.4 145.3,43.5 143,42|127.7,26.7 128.3,26.9 128,26.2|129.3,28.5 129.8,28.3 129.4,28',
'S. Korea':'126,37.8 128.3,38.5 129.5,36 129,35 126.4,34.4 126.6,37',
'India':'68.2,23.7 70,25 71,28 75,31 74,33 77.8,35.5 79,32.5 81,30 80,28.7 84,27.4 88,26.5 88.5,26 89,26.7 92,26.9 94.5,29 97,28.3 95,26 94,23.5 93.3,22 92,23.5 92,25 89.8,25.3 88.5,26 88,24.5 89,22 87,21.4 85,19.5 81,16 80,13.5 79.8,10.3 77.5,8 75.5,11.5 73.5,16 72.8,21 70,21 69,22.4|92.7,13.5 93,12.5 92.6,11.5|93.5,8 93.9,7.2 93.6,7',
'Indonesia':'95.3,5.5 97.5,5.2 100.5,2.2 104,0 106,-3 105.8,-5.8 104.3,-5.6 101,-2.5 98.5,1.5|105.2,-6.5 108.5,-6.5 114.5,-7.6 114.5,-8.7 108,-7.8|109,1.5 109.7,1.8 112,1.5 114.8,1.5 115.5,4 117.6,4.2 117.5,1.5 116.2,-1.5 116,-4 114.5,-4 111.5,-3.4 110,-1.5|119.5,0.5 121,1.2 125,1.6 124,0.5 120.5,0.5 123.3,-1 121.5,-1.8 123,-4.8 121.5,-4.5 120.5,-3 120.3,-5.5 119.5,-5.5 119,-3|123.6,-10.3 125.2,-8.9 124,-9.3|119.8,-8.5 123,-8.2 122.5,-8.9 120,-8.9|116.8,-8.4 119,-8.3 118.5,-9 117,-9|127.5,2 128.5,1 128,-0.8 127.5,0.5|128,-3 130.8,-3.2 129.5,-3.5|131,-0.8 134,-0.8 135,-3.2 137.5,-1.6 141,-2.6 141,-9.1 138,-8.2 138,-5.5 135,-4.4 133,-4 132,-2.8|97,1.3 97.8,1 97.5,0.5|99,-1.2 99.5,-1.8 99,-1.8|105.8,-2 107,-2.2 106,-3.2|107.5,-2.8 108.5,-2.8 108,-3.4|126.5,-3.2 127.2,-3.2 126.8,-3.7|119.5,-9.3 120.8,-9.9 120,-9.9',
'Australia':'114.2,-22 113.4,-26 115,-30 115.5,-34 118,-35 124,-33 129,-31.6 134,-32.8 136,-35 138,-33 138.5,-35.5 140.8,-38 144,-38.5 146.5,-39 150,-37.5 151.5,-33 153.5,-28 153,-25 149,-21 146,-19 145.3,-15 143.5,-14 142.5,-10.8 141.5,-14 141,-17 139,-17.5 135.5,-15 136.8,-12.2 132.5,-11.3 130,-13 129,-15 125,-14.5 122.3,-17.5 119,-20|144.7,-40.8 148.3,-40.9 148,-42.5 146.5,-43.6 145.3,-42.5',
'New Zealand':'172.7,-34.5 175.5,-36.5 178.5,-37.7 177,-39.5 175.3,-41.6 174.7,-39.5 174.8,-37.5|172.7,-40.5 174.3,-41.7 172.7,-43.8 170.5,-46 168.5,-46.6 166.5,-46 170,-42.8',
'S. Africa':'17,-28.8 20,-28.4 20,-24.8 20.8,-26.8 23,-25.2 26.5,-24.6 29,-22 31.3,-22.4 32,-26.8 32.8,-26 32.5,-28.5 30,-31.5 25.7,-34 20,-34.8 18.3,-34 18,-32',
Lesotho:'27,-29.8 28.5,-28.7 29.4,-29.6 28,-30.6',
Swaziland:'31,-26 32,-26.2 32,-27.2 31,-27'
};

// ---------- flags, drawn in unit coordinates ----------
const navy='#1b2a78', red='#e2142d', white='#fff';
function union(w,h){return [['r',0,0,w,h,navy],['p',[[0,0],[w*.2,0],[w,h*.8],[w,h],[w*.8,h],[0,h*.2]],white],['p',[[w,0],[w,h*.2],[w*.2,h],[0,h],[0,h*.8],[w*.8,0]],white],['r',0,h*.38,w,h*.24,white],['r',w*.38,0,w*.24,h,white],['r',0,h*.44,w,h*.12,'#d81e3a'],['r',w*.44,0,w*.12,h,'#d81e3a']];}
const flags = {
'Norway':[['r',0,0,1,1,'#e5283a'],['r',.27,0,.18,1,white],['r',0,.38,1,.24,white],['r',.32,0,.08,1,'#1f3f8f'],['r',0,.44,1,.12,'#1f3f8f']],
'France':[['r',0,0,.34,1,'#16318f'],['r',.34,0,.33,1,white],['r',.67,0,.33,1,'#e63946']],
'New Zealand':[['r',0,0,1,1,navy],...union(.5,.5),['c',.72,.3,.05,'#e2142d'],['c',.85,.5,.05,'#e2142d'],['c',.7,.72,.05,'#e2142d']],
'Portugal':[['r',0,0,.4,1,'#0a6a2a'],['r',.4,0,.6,1,'#e8112d'],['c',.4,.5,.2,'#f6d04d'],['c',.4,.5,.1,'#e8112d']],
'Belgium':[['r',0,0,.34,1,'#000'],['r',.34,0,.33,1,'#fbd928'],['r',.67,0,.33,1,'#ed2939']],
'Sweden':[['r',0,0,1,1,'#0b5c9e'],['r',.28,0,.18,1,'#fcc91a'],['r',0,.4,1,.2,'#fcc91a']],
'Brazil':[['r',0,0,1,1,'#0c9a3b'],['p',[[.5,.1],[.92,.5],[.5,.9],[.08,.5]],'#fedf00'],['c',.5,.5,.22,'#123a85']],
'Canada':[['r',0,0,1,1,'#f01a22'],['r',.25,0,.5,1,white],['p',[[.5,.18],[.62,.55],[.56,.78],[.44,.78],[.38,.55]],'#f01a22']],
'UK':union(1,1),
'Spain':[['r',0,0,1,1,'#c60b1e'],['r',0,.28,1,.44,'#ffc400']],
'Italy':[['r',0,0,.34,1,'#0a8f45'],['r',.34,0,.33,1,white],['r',.67,0,.33,1,'#cd212a']],
'Russia':[['r',0,0,1,.34,white],['r',0,.34,1,.33,'#1f3f9f'],['r',0,.67,1,.33,'#d52b1e']],
'Denmark':[['r',0,0,1,1,'#c8102e'],['r',.28,0,.16,1,white],['r',0,.4,1,.2,white]],
'Mexico':[['r',0,0,.34,1,'#0a6847'],['r',.34,0,.33,1,white],['r',.67,0,.33,1,'#ce1126'],['c',.5,.5,.12,'#8a6a3a']],
'Germany':[['r',0,0,1,.34,'#000'],['r',0,.34,1,.33,'#dd0000'],['r',0,.67,1,.33,'#ffce00']],
'USA':[['r',0,0,1,1,'#f3c3c8'],['r',0,0,1,.14,'#df8c96'],['r',0,.28,1,.14,'#df8c96'],['r',0,.56,1,.14,'#df8c96'],['r',0,.84,1,.16,'#df8c96'],['r',0,0,.42,.54,'#4a5590']],
'Netherlands':[['r',0,0,1,.34,'#ae1c28'],['r',0,.34,1,.33,white],['r',0,.67,1,.33,'#21468b']],
'Japan':[['r',0,0,1,1,white],['c',.5,.5,.28,'#bc002d']],
'S. Korea':[['r',0,0,1,1,white],['c',.5,.5,.26,'#cd2e3a'],['p',[[.24,.55],[.76,.55],[.7,.75],[.5,.8],[.3,.75]],'#0f3a8f'],['r',.1,.15,.14,.15,'#444'],['r',.76,.15,.14,.15,'#444'],['r',.1,.7,.14,.15,'#444'],['r',.76,.7,.14,.15,'#444']],
'China':[['r',0,0,1,1,'#de2910'],['c',.18,.3,.08,'#ffde00'],['c',.35,.15,.03,'#ffde00'],['c',.42,.3,.03,'#ffde00'],['c',.4,.48,.03,'#ffde00'],['c',.32,.6,.03,'#ffde00']],
'Australia':[['r',0,0,1,1,'#00128a'],...union(.5,.5),['c',.25,.78,.07,white],['c',.75,.2,.04,white],['c',.62,.5,.04,white],['c',.88,.42,.04,white],['c',.75,.82,.04,white]],
'Indonesia':[['r',0,0,1,.5,'#ce1126'],['r',0,.5,1,.5,white]],
'India':[['r',0,0,1,.34,'#ff9933'],['r',0,.34,1,.33,white],['r',0,.67,1,.33,'#138808'],['c',.5,.5,.13,'#2a2f9f']],
'Poland':[['r',0,0,1,.5,white],['r',0,.5,1,.5,'#dc143c']],
'S. Africa':[['r',0,0,1,.5,'#e03c31'],['r',0,.5,1,.5,'#001489'],['p',[[0,0],[.2,0],[.55,.38],[1,.38],[1,.62],[.55,.62],[.2,1],[0,1]],white],['p',[[0,.06],[.12,.06],[.5,.42],[1,.42],[1,.58],[.5,.58],[.12,.94],[0,.94]],'#007a4d'],['p',[[0,.2],[.34,.5],[0,.8]],'#ffb81c'],['p',[[0,.28],[.26,.5],[0,.72]],'#000']]
};

// ---------- helpers ----------
const FONT = '"Liberation Sans", Arimo, Helvetica, Arial, sans-serif';
function binColor(v){ return legendColors[Math.min(legendColors.length-1, Math.round(v/100))]; }
const tile = document.createElement('canvas'); tile.width = tile.height = 7;
(function(){ const g = tile.getContext('2d'); g.fillStyle='#fff'; g.fillRect(0,0,7,7); g.strokeStyle='#c4c4c4'; g.lineWidth=0.8;
  [[-1,1,1,-1],[0,7,7,0],[6,8,8,6]].forEach(l=>{g.beginPath();g.moveTo(l[0],l[1]);g.lineTo(l[2],l[3]);g.stroke();}); })();
const hatch = {image: tile, repeat: 'repeat'};

// ---------- build the map ----------
const barIndex = {}; countries.forEach((c,i)=>barIndex[c]=i);
const names = Object.keys(regionRings);
names.sort((a,b)=>(((a in barIndex)?1:0)-((b in barIndex)?1:0)));
// Lesotho and Swaziland sit on top of South Africa, so they come last of all
['Lesotho','Swaziland'].forEach(n=>{names.splice(names.indexOf(n),1);names.push(n);});
const features = names.map(n=>({type:'Feature',properties:{name:n},geometry:{type:'MultiPolygon',
  coordinates:regionRings[n].split('|').map(r=>{const pts=r.trim().split(/\s+/).map(p=>p.split(',').map(Number));pts.push(pts[0]);return [pts];})}}));
echarts.registerMap('world',{type:'FeatureCollection',features});
const mapData = names.map(n=>{
  const listed = n in barIndex;
  const v = listed ? barValues[barIndex[n]] : regionValues[n];
  const noData = v === null || v === undefined;
  const dark = listed || n==='Lesotho' || n==='Swaziland';
  return {name:n, value: noData?0:v, itemStyle:{areaColor: noData?hatch:binColor(v), borderColor: dark?'#000':'#8a8a8a', borderWidth: dark?1.1:0.9}};
});

// ---------- bars ----------
const BAR_GAP = 5, BAR_OFFSET = 13.7;
const barData = []; let cursor = BAR_OFFSET;
countries.forEach((c,i)=>{ barData.push([cursor,cursor+barWidths[i],barValues[i],i]); cursor += barWidths[i]+BAR_GAP; });

function flagElems(name,x,y,w,h){
  const out=[];
  flags[name].forEach(p=>{
    if(p[0]==='r') out.push({type:'rect',shape:{x:x+p[1]*w,y:y+p[2]*h,width:p[3]*w,height:p[4]*h},style:{fill:p[5]}});
    else if(p[0]==='c') out.push({type:'circle',shape:{cx:x+p[1]*w,cy:y+p[2]*h,r:p[3]*h},style:{fill:p[4]}});
    else out.push({type:'polygon',shape:{points:p[1].map(q=>[x+q[0]*w,y+q[1]*h])},style:{fill:p[2]}});
  });
  out.push({type:'rect',shape:{x:x,y:y,width:w,height:h},style:{fill:'none',stroke:'#9a9a9a',lineWidth:1}});
  return out;
}
function renderBar(params,api){
  const i = api.value(3), val = api.value(2);
  const a = api.coord([api.value(0),0]), b = api.coord([api.value(1),val]);
  const cx = (a[0]+b[0])/2, name = countries[i];
  const ch = [{type:'rect',shape:{x:a[0],y:b[1],width:b[0]-a[0],height:a[1]-b[1]},style:{fill:binColor(val),stroke:'#5f5f5f',lineWidth:1}}];
  flagElems(name,cx-9.5,b[1]-15.5,19,11).forEach(e=>ch.push(e));
  ch.push({type:'circle',shape:{cx:cx,cy:843.7,r:8},style:{fill:'#a8a8a8'}});
  ch.push({type:'text',x:cx,y:843.7,style:{text:String(i+1),fill:'#fff',font:'bold 11px '+FONT,align:'center',verticalAlign:'middle'}});
  ch.push({type:'text',x:cx-6,y:857,rotation:50*Math.PI/180,style:{text:name,fill:'#000',font:'19.5px '+FONT,align:'right',verticalAlign:'middle'}});
  return {type:'group',children:ch};
}

// ---------- legend as graphics ----------
const SW=55.4, STEP=61, SY=463.3, SH=37.7, SX=249.3;
const legendGraphics = [
 {type:'rect',shape:{x:166.3,y:SY,width:SW,height:SH},style:{fill:hatch,stroke:'#999',lineWidth:1}},
 {type:'text',x:194,y:437,style:{text:'No data',font:'italic 21.5px '+FONT,fill:'#666',align:'center',verticalAlign:'middle'}}
];
legendLabels.forEach((l,i)=>{
  legendGraphics.push({type:'rect',shape:{x:SX+i*STEP,y:SY,width:SW,height:SH},style:{fill:legendColors[i],stroke:'#555',lineWidth:1}});
  legendGraphics.push({type:'text',x:SX+i*STEP+SW/2,y:440,style:{text:l,font:'20.5px '+FONT,fill:'#000',align:'center',verticalAlign:'middle'}});
});

const axisLine = {lineStyle:{color:'#111',width:1.4}};
const chart = echarts.init(document.getElementById('c'),null,{width:960,height:960});
chart.setOption({
  animation:false,
  backgroundColor:'#fff',
  title:[
    {text:'(2017)',left:545.5,top:365,textAlign:'center',textStyle:{fontFamily:FONT,fontWeight:'bold',fontSize:20,color:'#000'}},
    {text:'Carbon content of electricity (g/kWh)',left:546.5,top:394,textAlign:'center',textStyle:{fontFamily:FONT,fontWeight:'bold',fontSize:22,color:'#000'}}
  ],
  grid:{left:79,right:19,top:509,height:322},
  xAxis:{type:'value',min:0,max:862,show:false},
  yAxis:[
   {type:'value',min:0,max:yMax,interval:yTickStep,position:'left',splitLine:{show:false},axisLine:{show:true,...axisLine},
    axisTick:{show:true,length:10,lineStyle:axisLine.lineStyle},minorTick:{show:true,splitNumber:3,length:5,lineStyle:axisLine.lineStyle},
    axisLabel:{margin:18,fontFamily:FONT,fontSize:21,color:'#000'}},
   {type:'value',min:0,max:yMax,interval:yTickStep,position:'right',splitLine:{show:false},axisLine:{show:true,...axisLine},
    axisTick:{show:true,length:10,lineStyle:axisLine.lineStyle},minorTick:{show:true,splitNumber:3,length:5,lineStyle:axisLine.lineStyle},
    axisLabel:{show:false}}
  ],
  graphic:{elements:legendGraphics},
  series:[
   {type:'map',map:'world',silent:true,roam:false,left:0,top:0,width:960,height:422,aspectScale:0.9545,
    boundingCoords:[[-165.41,84.93],[179.03,-59.6]],label:{show:false},emphasis:{disabled:true},select:{disabled:true},data:mapData},
   {type:'custom',coordinateSystem:'cartesian2d',clip:false,silent:true,renderItem:renderBar,encode:{x:[0,1],y:2},data:barData}
  ]
});
</script></body></html>
